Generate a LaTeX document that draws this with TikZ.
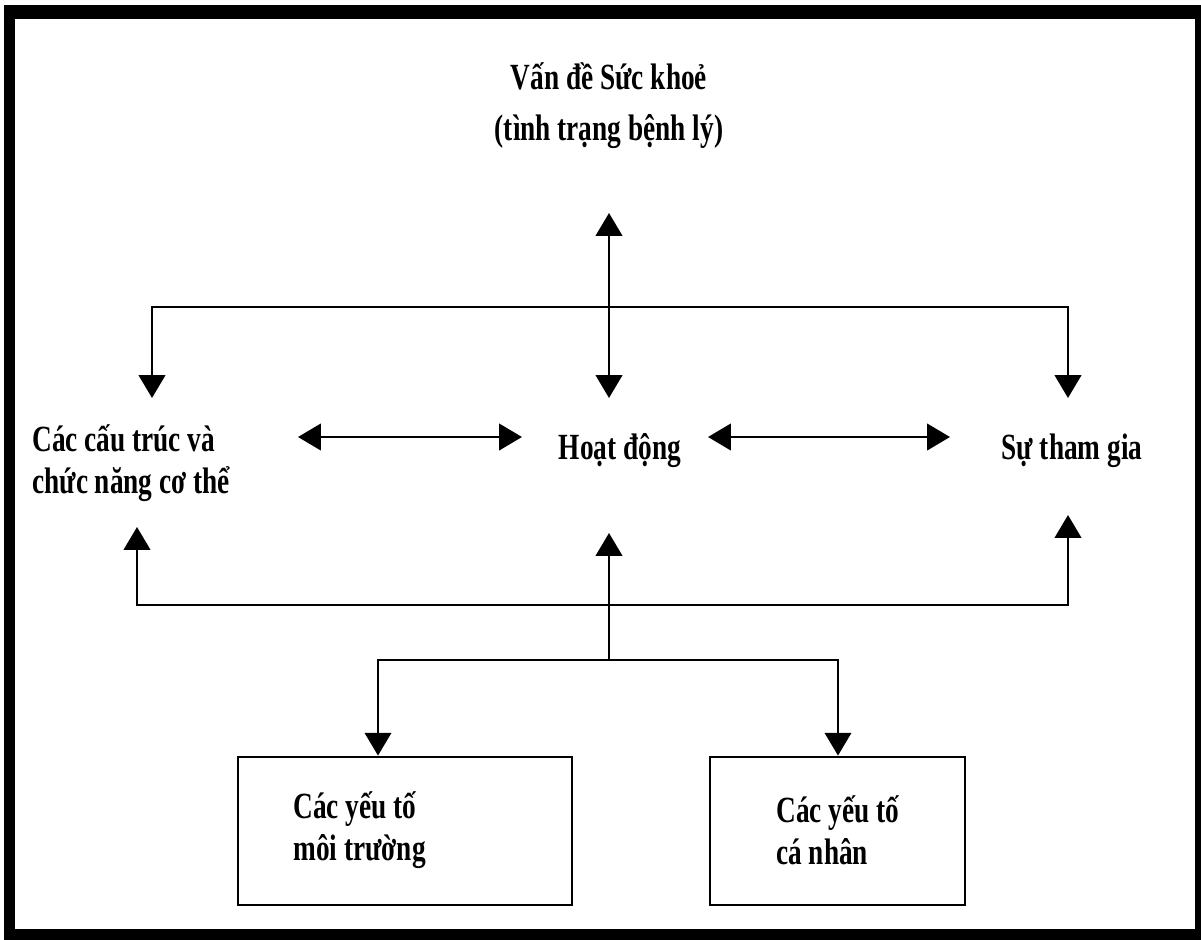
\documentclass[tikz,border=0pt]{standalone}
\usepackage{fontspec}
\setmainfont{Liberation Serif}[FakeStretch=0.74]
\usetikzlibrary{arrows.meta}

\begin{document}
\begin{tikzpicture}[x=0.02cm,y=-0.02cm]

\tikzstyle txt=[font=\bfseries\fontsize{21}{24}\selectfont, inner sep=0pt]
\tikzstyle factor=[draw, line width=1.6pt, inner sep=0pt]
\tikzstyle link=[line width=1.6pt, -{Triangle[width=15pt,length=13pt]}]
\tikzstyle both=[line width=1.6pt, {Triangle[width=15pt,length=13pt]}-{Triangle[width=15pt,length=13pt]}]

\useasboundingbox (0,0) rectangle (1201,940);
\fill (4,5) rectangle (1201,940);
\fill [white] (15,19) rectangle (1195,929);

\node (health) [txt, align=center] at (609,106) {Vấn đề Sức khoẻ\\[5pt](tình trạng bệnh lý)};
\node (body) [txt, align=left, anchor=west] at (32,463) {Các cấu trúc và\\chức năng cơ thể};
\node (act) [txt, anchor=base] at (620,459) {Hoạt động};
\node (part) [txt, anchor=base] at (1072,459) {Sự tham gia};

\node (envbox) [factor, minimum width=6.68cm, minimum height=2.96cm] at (405,831) {};
\node (envtxt) [txt, align=left, anchor=west] at (293,830) {Các yếu tố\\môi trường};
\node (persbox) [factor, minimum width=5.1cm, minimum height=2.96cm] at (837.5,831) {};
\node (perstxt) [txt, align=left, anchor=west] at (776,830) {Các yếu tố\\cá nhân};

% top
\coordinate (hp) at (609,213);
\coordinate (ha) at (609,398);
\coordinate (tl) at (152,307);
\coordinate (tr) at (1068,307);
\coordinate (bl) at (152,398);
\coordinate (br) at (1068,398);

\draw [both] (hp) -- (ha);
\draw [link] (tl) -- (tr) -- (br);
\draw [link] (tr) -- (tl) -- (bl);

% middle
\coordinate (sl) at (298,437);
\coordinate (sr) at (522,437);
\coordinate (al) at (708,437);
\coordinate (ar) at (950,437);

\draw [both] (sl) -- (sr);
\draw [both] (al) -- (ar);

% bottom
\coordinate (lb) at (137,605);
\coordinate (lt) at (137,527);
\coordinate (rb) at (1068,605);
\coordinate (rt) at (1068,515);
\coordinate (mb) at (609,660);
\coordinate (mt) at (609,533);
\coordinate (el) at (378,660);
\coordinate (er) at (838,660);

\draw [link] (rb) -- (lb) -- (lt);
\draw [link] (lb) -- (rb) -- (rt);
\draw [link] (mb) -- (mt);
\draw [link] (er) -- (el) -- (el |- envbox.north);
\draw [link] (el) -- (er) -- (er |- persbox.north);

\end{tikzpicture}
\end{document}
